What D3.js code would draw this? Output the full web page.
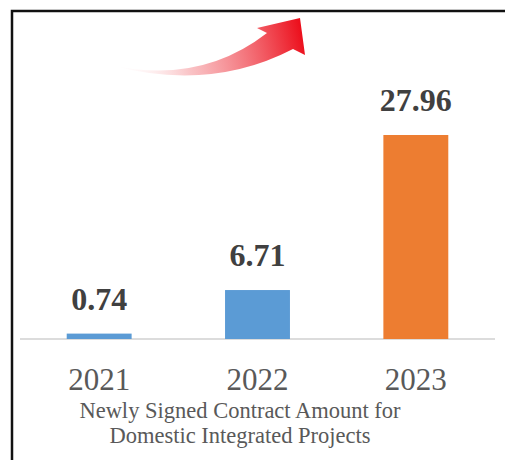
<!DOCTYPE html>
<html>
<head>
<meta charset="utf-8">
<script src="https://cdn.jsdelivr.net/npm/d3@7"></script>
<style>
  html, body { margin: 0; padding: 0; background: #fff; }
  svg { display: block; }
</style>
</head>
<body>
<svg id="chart" width="505" height="460"></svg>
<script>
// Newly signed contract amount, domestic integrated projects
const years = ["2021", "2022", "2023"];
const amounts = [0.74, 6.71, 27.96];
const barColors = ["#5b9bd5", "#5b9bd5", "#ed7d31"];
const titleLines = ["Newly Signed Contract Amount for", "Domestic Integrated Projects"];

const svg = d3.select("#chart");
const serif = '"Liberation Serif", "Times New Roman", serif';

const baseY = 339;
const x = d3.scaleBand()
  .domain(years)
  .range([20, 495])
  .paddingInner(0.59)
  .paddingOuter(0.295);

const y = d3.scaleLinear()
  .domain([0, d3.max(amounts)])
  .range([baseY, 135]);

// Frame (top and left edges)
svg.append("path")
  .attr("d", "M12,460 L12,11 L505,11")
  .attr("fill", "none")
  .attr("stroke", "#111")
  .attr("stroke-width", 2.5);

// Rising arrow with fading gradient
const defs = svg.append("defs");
const grad = defs.append("linearGradient")
  .attr("id", "arrowGrad")
  .attr("gradientUnits", "userSpaceOnUse")
  .attr("x1", 110).attr("y1", 68)
  .attr("x2", 300).attr("y2", 25);
grad.append("stop").attr("offset", "0%").attr("stop-color", "#ffffff").attr("stop-opacity", 0);
grad.append("stop").attr("offset", "40%").attr("stop-color", "#f7a8ac").attr("stop-opacity", 0.7);
grad.append("stop").attr("offset", "100%").attr("stop-color", "#ec0f1c").attr("stop-opacity", 1);

svg.append("path")
  .attr("d", "M110,65 Q200,85 267,33 L257,28 L300,18 L305,55 L293,49 Q210,92 110,65 Z")
  .attr("fill", "url(#arrowGrad)");

// Baseline
svg.append("line")
  .attr("x1", 20).attr("x2", 495)
  .attr("y1", baseY).attr("y2", baseY)
  .attr("stroke", "#d0d0d0")
  .attr("stroke-width", 1.5);

// Bars
svg.selectAll("rect.bar")
  .data(amounts)
  .join("rect")
  .attr("class", "bar")
  .attr("x", (d, i) => x(years[i]))
  .attr("width", x.bandwidth())
  .attr("y", d => y(d))
  .attr("height", d => baseY - y(d))
  .attr("fill", (d, i) => barColors[i]);

// Value labels
svg.selectAll("text.value")
  .data(amounts)
  .join("text")
  .attr("class", "value")
  .attr("x", (d, i) => x(years[i]) + x.bandwidth() / 2)
  .attr("y", d => y(d) - 24)
  .attr("text-anchor", "middle")
  .style("font-family", serif)
  .style("font-weight", "bold")
  .style("font-size", "32px")
  .attr("fill", "#404040")
  .text(d => d.toFixed(2));

// Category axis labels
const axis = d3.axisBottom(x).tickSize(0).tickPadding(0);
const gAxis = svg.append("g")
  .attr("transform", `translate(0,${baseY})`)
  .call(axis);
gAxis.select(".domain").remove();
gAxis.selectAll("text")
  .attr("y", 51)
  .attr("dy", 0)
  .style("font-family", serif)
  .style("font-size", "31px")
  .attr("fill", "#595959");

// Title beneath the axis
svg.append("text")
  .attr("text-anchor", "middle")
  .style("font-family", serif)
  .style("font-size", "22.5px")
  .attr("fill", "#595959")
  .selectAll("tspan")
  .data(titleLines)
  .join("tspan")
  .attr("x", 240)
  .attr("y", (d, i) => 418 + i * 25)
  .text(d => d);
</script>
</body>
</html>
